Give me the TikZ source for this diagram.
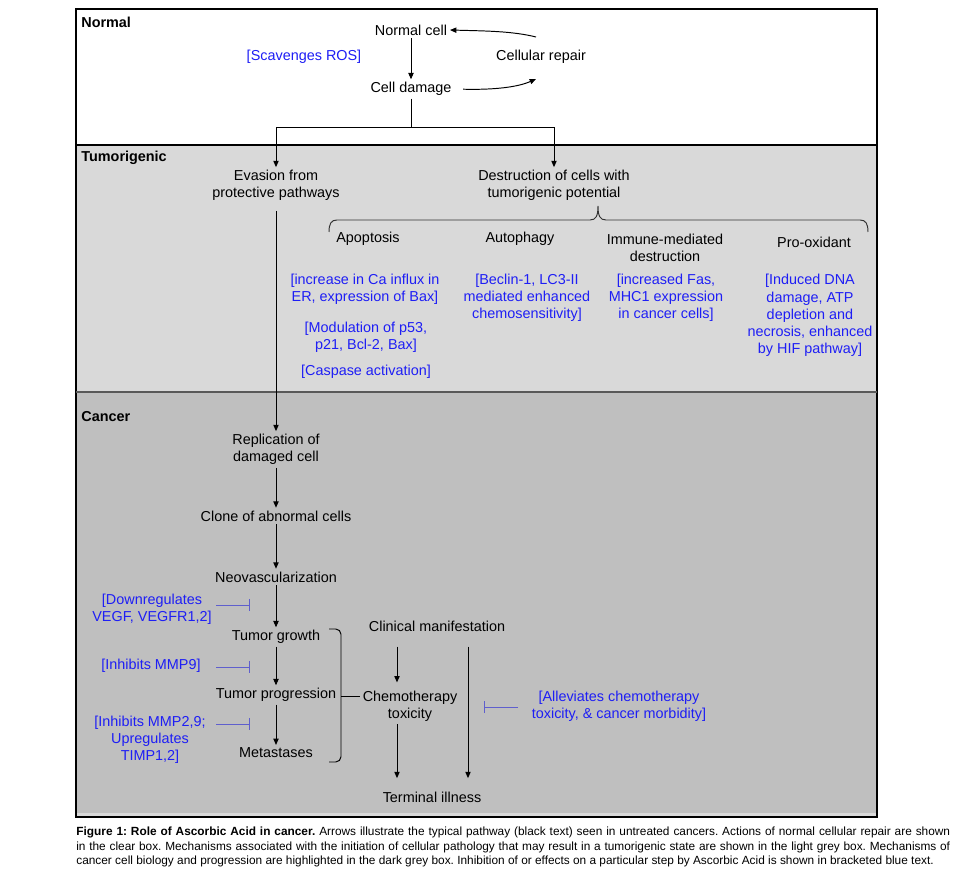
\documentclass[tikz,border=0pt]{standalone}
\usepackage{fontspec}
\setmainfont{Liberation Sans}
\usetikzlibrary{arrows.meta}
\definecolor{lg}{RGB}{217,217,217}
\definecolor{dg}{RGB}{191,191,191}
\definecolor{tblue}{RGB}{30,30,245}
\definecolor{iblue}{RGB}{95,95,205}
\newcommand{\mfs}{\fontsize{8.2}{9.8}\selectfont}
\begin{document}
\begin{tikzpicture}[x=0.02cm,y=-0.02cm,
  txt/.style={inner sep=1.5pt, align=center, font=\mfs},
  btxt/.style={txt, text=tblue},
  sect/.style={inner sep=0pt, anchor=west, font=\mfs\bfseries},
  arr/.style={-{Triangle[length=3.6pt,width=3pt]}, line width=0.55pt},
  ln/.style={line width=0.55pt},
  inh/.style={-{Bar[width=7pt]}, line width=0.55pt, draw=iblue}]
\useasboundingbox (0,0) rectangle (958,881);
\fill[white] (0,0) rectangle (958,881);
% panels
\fill[lg] (76,145) rectangle (877,392);
\fill[dg] (76,392) rectangle (877,813);
\fill[lg] (76,813) rectangle (877,817);
\draw[line width=0.9pt] (76,9) rectangle (877,817);
\draw[line width=1.1pt] (76,145) -- (877,145);
\draw[line width=1.1pt, draw=black!65] (76,392) -- (877,392);
\node[sect] (sN) at (81,22) {Normal};
\node[sect] (sT) at (81,158) {Tumorigenic};
\node[sect] (sC) at (81,417) {Cancer};
% Normal
\node[txt] (nc) at (411,30) {Normal cell};
\node[btxt] (sros) at (304,57) {[Scavenges ROS]};
\node[txt] (cr) at (541,57) {Cellular repair};
\node[txt] (cd) at (411,89) {Cell damage};
\coordinate (crA) at (536,37);
\coordinate (crB) at (536,79);
\draw[arr] (nc) -- (cd);
\draw[arr] (crA) .. controls (512,31) and (485,31) .. (nc.east);
\draw[arr,shorten <=5pt] (cd.east) .. controls (495,90) and (518,87) .. (crB);
% Tumorigenic
\node[txt] (ev) at (276,185.5) {Evasion from\\protective pathways};
\node[txt] (de) at (554,185.5) {Destruction of cells with\\tumorigenic potential};
\coordinate (split) at (411,127);
\draw[ln] (cd) -- (split);
\draw[arr] (split) -| (ev);
\draw[arr] (split) -| (de);
\draw[ln, draw=black!80] (329,232) .. controls (329,224) and (331,220) .. (337,220) -- (590,220)
  .. controls (596,220) and (598,216) .. (598,206) .. controls (598,216) and (600,220) .. (606,220)
  -- (860,220) .. controls (866,220) and (868,224) .. (868,232);
\node[txt] (apo) at (368,239) {Apoptosis};
\node[txt] (aut) at (520,239) {Autophagy};
\node[txt] (imm) at (665,248) {Immune-mediated\\destruction};
\node[txt] (pro) at (814,242) {Pro-oxidant};
\node[btxt] (b1) at (365,289.5) {[increase in Ca influx in\\ER, expression of Bax]};
\node[btxt] (b2) at (366,337) {[Modulation of p53,\\p21, Bcl-2, Bax]};
\node[btxt] (b3) at (366,372) {[Caspase activation]};
\node[btxt] (b4) at (527,297.5) {[Beclin-1, LC3-II\\mediated enhanced\\chemosensitivity]};
\node[btxt] (b5) at (666,297.5) {[increased Fas,\\MHC1 expression\\in cancer cells]};
\node[btxt] (b6) at (810,315.5) {[Induced DNA\\damage, ATP\\depletion and\\necrosis, enhanced\\by HIF pathway]};
% Cancer
\node[txt] (rep) at (276,449.5) {Replication of\\damaged cell};
\node[txt] (clone) at (276,516) {Clone of abnormal cells};
\node[txt] (neo) at (276,577) {Neovascularization};
\node[txt] (tg) at (276,637) {Tumor growth};
\node[txt] (tp) at (276,695) {Tumor progression};
\node[txt] (met) at (276,753) {Metastases};
\draw[arr, shorten <=4pt] (ev) -- (rep);
\draw[arr] (rep) -- (clone);
\draw[arr] (clone) -- (neo);
\draw[arr] (neo) -- (tg);
\draw[arr] (tg) -- (tp);
\draw[arr] (tp) -- (met);
\node[btxt] (dv) at (152,609.5) {[Downregulates\\VEGF, VEGFR1,2]};
\node[btxt] (m9) at (151,666) {[Inhibits MMP9]};
\node[btxt] (m2) at (150,740) {[Inhibits MMP2,9;\\Upregulates\\TIMP1,2]};
\coordinate (i1s) at (216,605); \coordinate (i1e) at (250,605);
\coordinate (i2s) at (216,667); \coordinate (i2e) at (250,667);
\coordinate (i3s) at (216,724); \coordinate (i3e) at (250,724);
\draw[inh] (i1s) -- (i1e);
\draw[inh] (i2s) -- (i2e);
\draw[inh] (i3s) -- (i3e);
\node[txt] (clin) at (437,626) {Clinical manifestation};
\node[txt] (chemo) at (410,706) {Chemotherapy\\toxicity};
\node[txt] (term) at (432,797) {Terminal illness};
\node[btxt] (alle) at (619,706) {[Alleviates chemotherapy\\toxicity, \& cancer morbidity]};
\coordinate (brk) at (341,696);
\draw[ln, rounded corners=3pt] (329,629) -- (341,629) -- (341,762) -- (329,762);
\draw[ln] (brk) -- (chemo.west |- brk);
\coordinate (cx) at (397,0);
\coordinate (lx) at (468,0);
\draw[arr, shorten <=7pt, shorten >=3pt] (clin.south -| cx) -- (chemo.north -| cx);
\draw[arr, shorten >=6pt] (chemo.south -| cx) -- (term.north -| cx);
\draw[arr, shorten <=7pt, shorten >=6pt] (clin.south -| lx) -- (term.north -| lx);
\coordinate (i4s) at (518,707); \coordinate (i4e) at (484,707);
\draw[inh] (i4s) -- (i4e);
% caption
\node[anchor=north west, inner sep=0pt] (cap) at (76,827) {\parbox{17.48cm}{\fontsize{6.75}{8.05}\selectfont\frenchspacing\noindent
\textbf{Figure 1: Role of Ascorbic Acid in cancer.} Arrows illustrate the typical pathway (black text) seen in untreated cancers. Actions of normal cellular repair are shown\linebreak
in the clear box. Mechanisms associated with the initiation of cellular pathology that may result in a tumorigenic state are shown in the light grey box. Mechanisms of\linebreak
cancer cell biology and progression are highlighted in the dark grey box. Inhibition of or effects on a particular step by Ascorbic Acid is shown in bracketed blue text.}};
\end{tikzpicture}
\end{document}
